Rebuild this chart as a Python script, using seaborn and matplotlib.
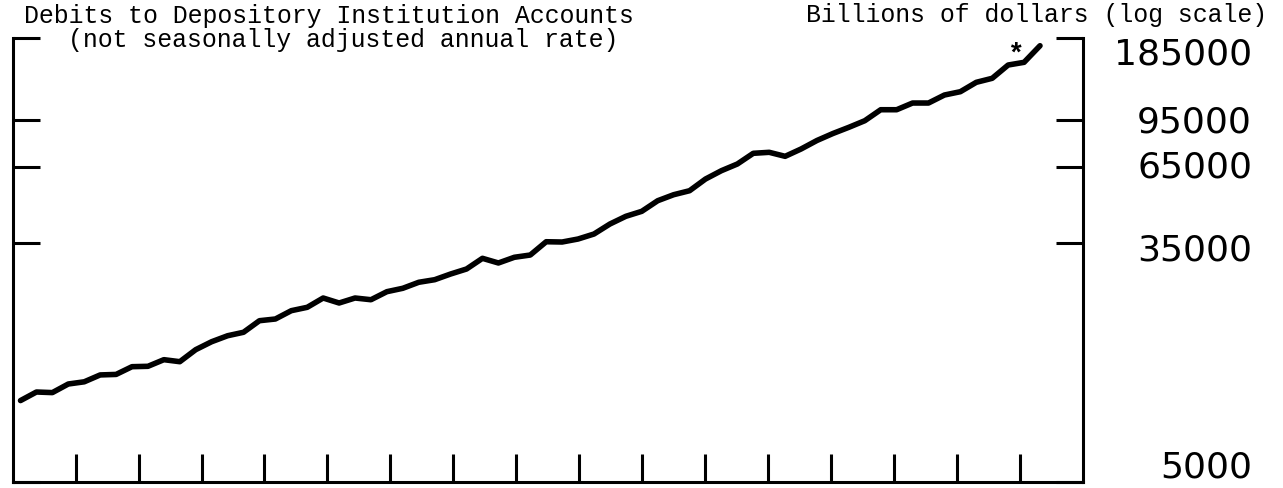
import numpy as np
import pandas as pd
import matplotlib
matplotlib.use("Agg")
import matplotlib.pyplot as plt
import matplotlib.transforms as mtransforms
import seaborn as sns

# ---- data (billions of dollars, quarterly) ----
debits = [9700, 10400, 10350, 11100, 11300, 11950, 12000, 12780, 12820, 13530,
          13310, 14680, 15660, 16440, 16910, 18580, 18840, 20160, 20720, 22350,
          21460, 22350, 22040, 23530, 24190, 25400, 25940, 27170, 28300, 30870,
          29720, 31130, 31710, 35330, 35250, 36120, 37620, 40810, 43450, 45250,
          49330, 51800, 53510, 58850, 62990, 66510, 72560, 73150, 70800, 75150,
          80550, 85250, 89650, 94600, 103450, 103450, 109250, 109250, 116600, 119800,
          129300, 133600, 148850, 152150, 174150]
quarter = list(range(len(debits)))
y_tick_values = [5000, 35000, 65000, 95000, 185000]
y_tick_labels = ["5000", "35000", "65000", "95000", "185000"]
title_left_1 = "Debits to Depository Institution Accounts"
title_left_2 = "(not seasonally adjusted annual rate)"
title_right = "Billions of dollars (log scale)"
star_index = 62

df = pd.DataFrame({"quarter": quarter, "debits": debits})

sns.set_style("white")
plt.rcParams["font.family"] = ["DejaVu Sans"]

W, H = 1283, 489
fig = plt.figure(figsize=(W / 100, H / 100), dpi=100)
left_px, right_px, top_px, bot_px = 12.7, 1082.7, 39.3, 483.0
ax = fig.add_axes([left_px / W, (H - bot_px) / H,
                   (right_px - left_px) / W, (bot_px - top_px) / H])

sns.lineplot(data=df, x="quarter", y="debits", ax=ax, color="black",
             linewidth=4.0, solid_joinstyle="round", solid_capstyle="round")

ax.set_yscale("log")
ax.set_ylim(5000, 185000)
xlim = (-0.49, 66.68)
ax.set_xlim(*xlim)
ax.set_xlabel("")
ax.set_ylabel("")

# spines
for s in ["left", "right", "bottom"]:
    ax.spines[s].set_visible(True)
    ax.spines[s].set_linewidth(2.2)
    ax.spines[s].set_color("black")
ax.spines["top"].set_visible(False)

# x ticks (inward, no labels)
ax.set_xticks(np.linspace(xlim[0], xlim[1], 18)[1:-1])
ax.tick_params(axis="x", direction="in", length=20, width=2.2, color="black",
               labelbottom=False, bottom=True, top=False)

# y ticks both sides, inward
ax.yaxis.set_minor_locator(matplotlib.ticker.NullLocator())
ax.set_yticks(y_tick_values)
ax.tick_params(axis="y", which="both", direction="in", length=19.5, width=2.2,
               color="black", left=True, right=True,
               labelleft=False, labelright=False)

# right-hand value labels
blend = mtransforms.blended_transform_factory(ax.transAxes, ax.transData)
label_offsets_px = [15, -7, 0, -1, -15]  # vertical nudge (px, + = up)
x_lab = (1252 - left_px) / (right_px - left_px)
for v, lab, off in zip(y_tick_values, y_tick_labels, label_offsets_px):
    ax.annotate(lab, xy=(x_lab, v), xycoords=blend,
                xytext=(0, off * 0.72), textcoords="offset points",
                ha="right", va="center", fontsize=26,
                family=["DejaVu Sans"], color="black", annotation_clip=False)

# asterisk
ax.annotate("*", xy=(quarter[star_index], debits[star_index]),
            xytext=(5, 8), textcoords="offset points",
            ha="center", va="center", fontsize=20, fontweight="bold",
            family=["Liberation Mono"], color="black")

# header texts
mono = ["Liberation Mono", "DejaVu Sans Mono"]
fig.text(24 / W, 1 - 23 / H, title_left_1, ha="left", va="baseline",
         fontsize=17.9, family=mono, color="black")
fig.text(68 / W, 1 - 47 / H, title_left_2, ha="left", va="baseline",
         fontsize=17.9, family=mono, color="black")
fig.text(1267 / W, 1 - 22 / H, title_right, ha="right", va="baseline",
         fontsize=17.9, family=mono, color="black")

fig.savefig("out.png", dpi=100, facecolor="white")
